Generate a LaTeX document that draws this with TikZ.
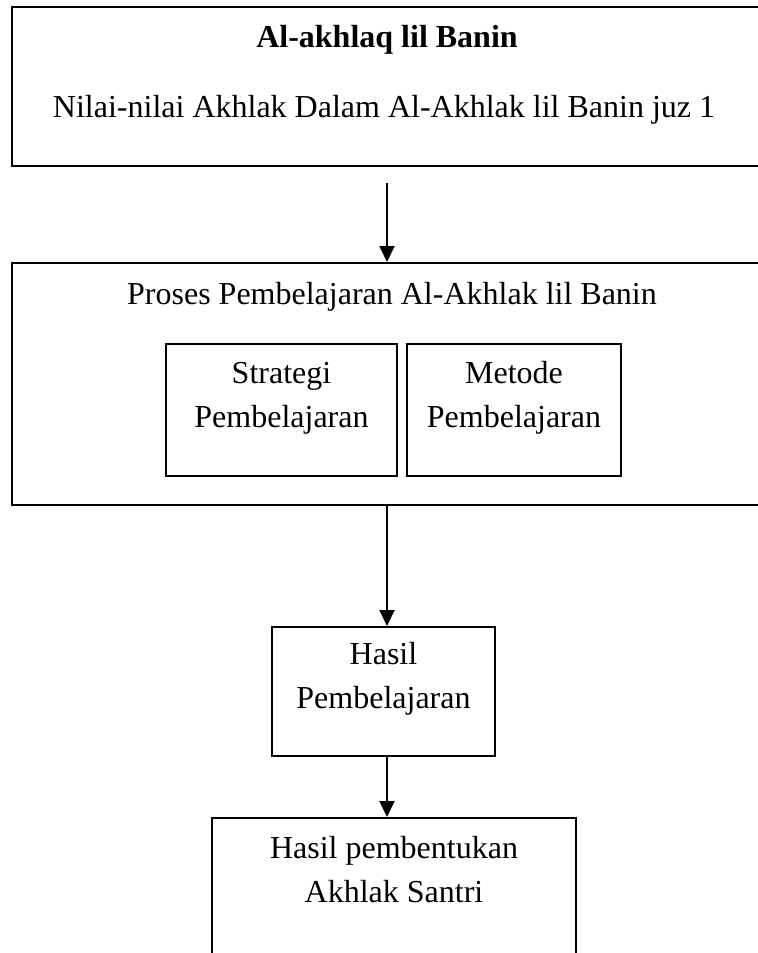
\documentclass[tikz,border=0pt]{standalone}
\usepackage{fontspec}
\setmainfont{Liberation Serif}
\usetikzlibrary{arrows.meta,positioning}
\tikzset{
      boxsr/.style={
          rectangle,
          draw=black,
          line width=1pt,
          inner sep=0pt
      },
      txtsr/.style={
          anchor=base,
          align=center,
          inner sep=0pt,
          font=\fontsize{16}{22}\selectfont
      },
      arrsr/.style={
          line width=1pt,
          -{Triangle[length=8pt,width=7.5pt]}
      }
  }

\begin{document}
\begin{tikzpicture}[x=0.5pt,y=-0.5pt]
    \useasboundingbox (0,0) rectangle (758,953);
    \clip (0,0) rectangle (758,953);
    \coordinate (axis) at (387,0);

    % two-line texts: base anchor sits on the last line
    \node [boxsr, minimum width=384pt, minimum height=79.5pt] (kitab) at (396,86.5) {};
    \node [txtsr] (kitabjudul) at (387,47) {\bfseries Al-akhlaq lil Banin};
    \node [txtsr] (kitabnilai) at (384,117) {Nilai-nilai Akhlak Dalam Al-Akhlak lil Banin juz 1};

    \node [boxsr, minimum width=384pt, minimum height=121pt] (proses) at (396,384) {};
    \node [txtsr] (prosesjudul) at (392,304) {Proses Pembelajaran Al-Akhlak lil Banin};

    \node [boxsr, minimum width=115.5pt, minimum height=66pt] (strategi) at (281.5,410) {};
    \node [txtsr] (strategitxt) at (281.5,427) {Strategi\\Pembelajaran};
    \node [boxsr, minimum width=107pt, minimum height=66pt] (metode) at (514,410) {};
    \node [txtsr] (metodetxt) at (514,427) {Metode\\Pembelajaran};

    \node [boxsr, minimum width=111.5pt, minimum height=64.5pt] (hasil) at (383.5,691.5) {};
    \node [txtsr] (hasiltxt) at (383.5,708) {Hasil\\Pembelajaran};

    \node [boxsr, minimum width=182pt, minimum height=82pt] (akhlak) at (394,900) {};
    \node [txtsr] (akhlaktxt) at (394,902) {Hasil pembentukan\\Akhlak Santri};

    \draw [arrsr, shorten <=8pt] (kitab.south -| axis) -- (proses.north -| axis);
    \draw [arrsr] (proses.south -| axis) -- (hasil.north -| axis);
    \draw [arrsr] (hasil.south -| axis) -- (akhlak.north -| axis);
\end{tikzpicture}
\end{document}
